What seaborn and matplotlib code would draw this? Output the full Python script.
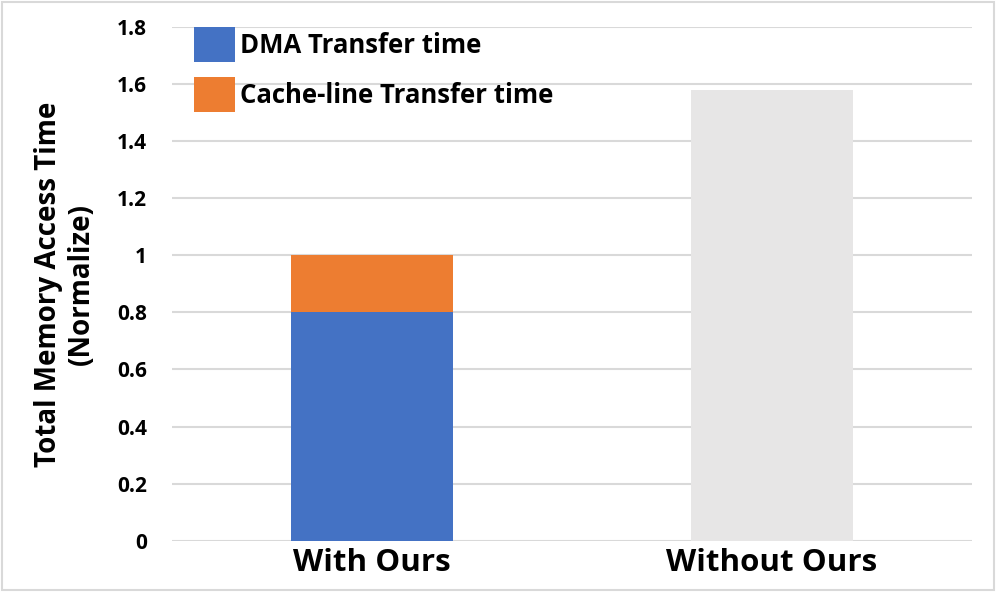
import matplotlib
matplotlib.use("Agg")
import matplotlib.pyplot as plt
from matplotlib.patches import Patch, Rectangle
import pandas as pd
import seaborn as sns

# values
categories = ["With Ours", "Without Ours"]
dma_time = [0.8, 0.0]
cache_time = [0.2, 0.0]
baseline_time = [0.0, 1.58]
legend_labels = ["DMA Transfer time", "Cache-line Transfer time"]
y_ticks = [0, 0.2, 0.4, 0.6, 0.8, 1, 1.2, 1.4, 1.6, 1.8]
y_tick_labels = ["0", "0.2", "0.4", "0.6", "0.8", "1", "1.2", "1.4", "1.6", "1.8"]

blue = "#4472C4"
orange = "#ED7D31"
gray = "#E7E6E6"
grid_gray = "#D9D9D9"

sns.set_theme(style="white")
plt.rcParams["font.family"] = ["Open Sans", "DejaVu Sans"]
plt.rcParams["font.weight"] = "bold"
plt.rcParams["text.color"] = "black"
plt.rcParams["axes.labelcolor"] = "black"

df = pd.DataFrame({
    "category": categories,
    "dma": dma_time,
    "top": [d + c + b for d, c, b in zip(dma_time, cache_time, baseline_time)],
})

fig = plt.figure(figsize=(9.97, 6.07), dpi=100)
ax = fig.add_axes([172 / 997, 66.3 / 607, 800 / 997, 513.7 / 607])

# outer frame like the Excel chart area
fig.patches.append(Rectangle((2 / 997, 17 / 607), 992 / 997, 588 / 607,
                             transform=fig.transFigure, fill=False,
                             edgecolor=grid_gray, linewidth=1.5))

# top segment (cache-line on top of DMA, or the gray baseline bar)
sns.barplot(data=df, x="category", y="top", hue="category",
            palette={categories[0]: orange, categories[1]: gray},
            saturation=1, width=0.405, linewidth=0, legend=False, ax=ax, zorder=3)
# DMA segment at the bottom
sns.barplot(data=df, x="category", y="dma", color=blue, saturation=1,
            width=0.405, linewidth=0, ax=ax, zorder=4)

ax.set_xlim(-0.5, 1.5)
ax.set_ylim(0, 1.8)
ax.set_yticks(y_ticks)
ax.set_yticklabels(y_tick_labels)
ax.yaxis.grid(True, color=grid_gray, linewidth=1.5, zorder=0)
ax.set_axisbelow(True)
for s in ax.spines.values():
    s.set_visible(False)
ax.tick_params(axis="y", length=0, pad=18, labelsize=15, labelcolor="black")
ax.tick_params(axis="x", length=0, pad=5, labelsize=22.5, labelcolor="black")
for lab in ax.get_xticklabels() + ax.get_yticklabels():
    lab.set_fontweight("bold")

ax.set_xlabel("")
ax.set_ylabel("Total Memory Access Time\n(Normalize)", fontsize=20,
              fontweight="bold", color="black", linespacing=1.2, labelpad=15)

handles = [Patch(facecolor=blue, edgecolor="none"),
           Patch(facecolor=orange, edgecolor="none")]
fig.legend(handles, legend_labels, loc="upper left",
           bbox_to_anchor=(194 / 997, 1 - 27 / 607),
           frameon=False, prop={"weight": "bold", "size": 18.5},
           handlelength=1.6, handleheight=1.72, handletextpad=0.2,
           labelspacing=0.6, borderpad=0, borderaxespad=0)

fig.savefig("out.png", dpi=100, facecolor="white")
